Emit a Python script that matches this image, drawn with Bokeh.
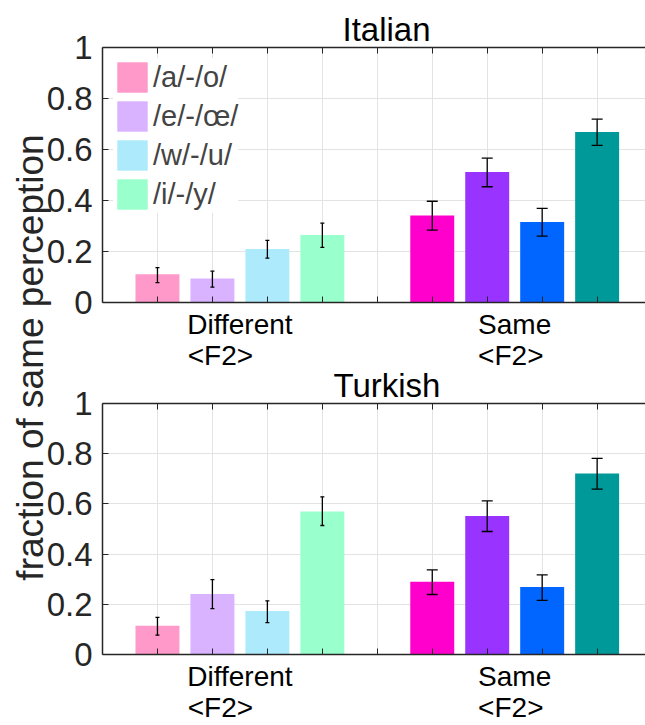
from bokeh.plotting import figure
from bokeh.models import (ColumnDataSource, Whisker, TeeHead, FixedTicker, Range1d, LinearAxis,
                          Legend, LegendItem, Label, CustomJSTickFormatter)
from bokeh.layouts import row, column
from bokeh.embed import file_html
from bokeh.resources import INLINE

# ---------------- data ----------------
series = ["/a/-/o/", "/e/-/œ/", "/w/-/u/", "/i/-/y/"]
conditions = ["Different\n<F2>", "Same\n<F2>"]
light_colors = ["#FF99C9", "#D9B3FF", "#ADEBFC", "#99FFCC"]
dark_colors = ["#FF00CC", "#9933FF", "#0066FF", "#009999"]
y_ticks = [0, 0.2, 0.4, 0.6, 0.8, 1]

italian_diff = [0.111, 0.094, 0.210, 0.265]
italian_diff_lo = [0.078, 0.060, 0.174, 0.216]
italian_diff_hi = [0.137, 0.123, 0.244, 0.311]
italian_same = [0.341, 0.512, 0.316, 0.669]
italian_same_lo = [0.284, 0.454, 0.260, 0.616]
italian_same_hi = [0.397, 0.566, 0.369, 0.719]

turkish_diff = [0.115, 0.241, 0.173, 0.570]
turkish_diff_lo = [0.077, 0.183, 0.127, 0.514]
turkish_diff_hi = [0.148, 0.298, 0.214, 0.628]
turkish_same = [0.290, 0.552, 0.269, 0.721]
turkish_same_lo = [0.239, 0.490, 0.216, 0.659]
turkish_same_hi = [0.337, 0.612, 0.317, 0.781]

FONT = "Liberation Sans"
AX = "#262626"
GRID = "#E3E3E3"
n = len(series)
group_gap = n + 1
positions = [g * group_gap + i + 1 for g in range(2) for i in range(n)]
all_ticks = list(range(1, 2 * group_gap))
cat_centers = [g * group_gap + (n + 1) / 2 for g in range(2)]
# the second label line is padded (no-break spaces) so that both lines start at the same x,
# as in the reference where the two-line labels are left-aligned
line_pad = [5, 1]
display_conditions = [c + "\u00a0" * k for c, k in zip(conditions, line_pad)]


def make_panel(title, title_offset, groups, height, top, bottom, legend):
    p = figure(width=603, height=height, x_range=Range1d(0, 9.88), y_range=Range1d(0, 1),
               output_backend="svg", toolbar_location=None,
               min_border_left=60, min_border_right=0, min_border_top=top, min_border_bottom=bottom)
    p.outline_line_color = None
    p.background_fill_color = "white"
    p.border_fill_alpha = 0

    p.title.text = title
    p.title.text_font = FONT
    p.title.text_font_size = "33px"
    p.title.text_font_style = "normal"
    p.title.text_color = "black"
    p.title.align = "left"
    p.title.offset = title_offset
    p.title.standoff = 0

    # bottom axis: category labels at group centres, inward minor ticks at bar slots
    xa = p.xaxis[0]
    xa.ticker = FixedTicker(ticks=cat_centers, minor_ticks=all_ticks)
    xa.formatter = CustomJSTickFormatter(
        args=dict(centers=cat_centers, labels=display_conditions),
        code="const i = centers.indexOf(tick); return i >= 0 ? labels[i] : '';")
    xa.major_tick_in = 0
    xa.major_tick_out = 0
    xa.minor_tick_in = 6
    xa.minor_tick_out = 0
    xa.minor_tick_line_color = AX
    xa.axis_line_color = AX
    xa.axis_line_width = 1.5
    xa.major_label_standoff = 6
    xa.major_label_text_font = FONT
    xa.major_label_text_font_size = "28px"
    xa.major_label_text_color = "black"
    xa.major_label_text_line_height = 1.0

    ya = p.yaxis[0]
    ya.ticker = FixedTicker(ticks=y_ticks)
    ya.formatter = CustomJSTickFormatter(code="return String(Math.round(tick*10)/10)")
    ya.major_tick_in = 6
    ya.major_tick_out = 0
    ya.major_tick_line_color = AX
    ya.axis_line_color = AX
    ya.axis_line_width = 1.5
    ya.major_label_text_font = FONT
    ya.major_label_text_font_size = "33px"
    ya.major_label_text_color = AX
    ya.major_label_standoff = 10

    top_ax = LinearAxis(ticker=FixedTicker(ticks=[], minor_ticks=all_ticks),
                        minor_tick_in=6, minor_tick_out=0, minor_tick_line_color=AX,
                        major_tick_in=0, major_tick_out=0, major_label_standoff=0,
                        axis_line_color=AX, axis_line_width=1.5)
    p.add_layout(top_ax, "above")

    p.xgrid.ticker = FixedTicker(ticks=all_ticks)
    p.xgrid.grid_line_color = GRID
    p.ygrid.grid_line_color = GRID

    # bars
    items = []
    for i in range(n):
        src = ColumnDataSource(dict(
            x=[positions[i], positions[n + i]],
            top=[groups[0][0][i], groups[1][0][i]],
            color=[light_colors[i], dark_colors[i]],
        ))
        r = p.vbar(x="x", top="top", bottom=0, width=0.8, fill_color="color",
                   line_color=None, source=src)
        items.append(LegendItem(label=series[i], renderers=[r], index=0))

    # error bars
    for g, cap in zip(range(2), [4, 11]):
        means, lo, hi = groups[g]
        src = ColumnDataSource(dict(base=positions[g * n:(g + 1) * n], lower=lo, upper=hi))
        w = Whisker(source=src, base="base", lower="lower", upper="upper",
                    line_color="black", line_width=1.3, level="overlay",
                    upper_head=TeeHead(size=cap, line_color="black", line_width=1.3),
                    lower_head=TeeHead(size=cap, line_color="black", line_width=1.3))
        p.add_layout(w)

    if legend:
        lg = Legend(items=items, location="top_left", glyph_width=38, glyph_height=38,
                    label_text_font=FONT, label_text_font_size="29px",
                    label_standoff=2, spacing=1, padding=8, margin=11,
                    border_line_color=None, background_fill_color="white",
                    background_fill_alpha=1.0)
        p.add_layout(lg)
    return p


p1 = make_panel("Italian", 240,
                [(italian_diff, italian_diff_lo, italian_diff_hi),
                 (italian_same, italian_same_lo, italian_same_hi)],
                height=373, top=47, bottom=71, legend=True)
p2 = make_panel("Turkish", 231,
                [(turkish_diff, turkish_diff_lo, turkish_diff_hi),
                 (turkish_same, turkish_same_lo, turkish_same_hi)],
                height=361, top=37, bottom=71, legend=False)
p2.styles = {"margin-top": "-9px"}

p0 = figure(width=52, height=725, x_range=(0, 1), y_range=(0, 1), output_backend="svg",
            toolbar_location=None, x_axis_location=None, y_axis_location=None, min_border=0)
p0.grid.visible = False
p0.outline_line_color = None
p0.styles = {"margin-right": "-10px"}
p0.add_layout(Label(x=30, y=368, x_units="screen", y_units="screen",
                    text="fraction of same perception", angle=90, angle_units="deg",
                    text_align="center", text_baseline="middle",
                    text_font=FONT, text_font_size="37px", text_color=AX))

layout = row(p0, column(p1, p2))
open("out.html", "w").write(file_html(layout, INLINE))
